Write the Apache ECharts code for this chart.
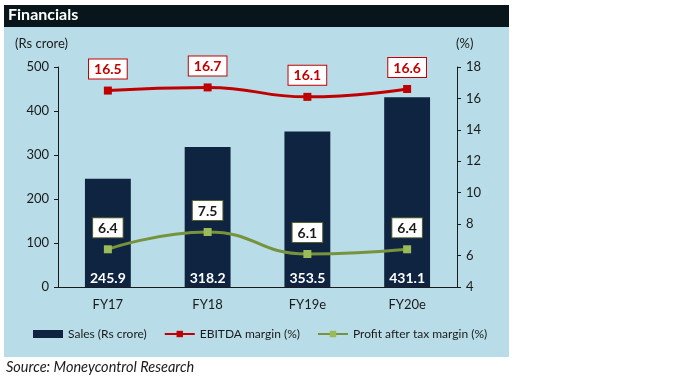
<!DOCTYPE html>
<html><head><meta charset="utf-8">
<script src="https://cdn.jsdelivr.net/npm/echarts@6/dist/echarts.min.js"></script>
<style>html,body{margin:0;padding:0;background:#fff}#c{width:691px;height:381px}</style>
</head><body><div id="c"></div>
<script>
const categories = ['FY17','FY18','FY19e','FY20e'];
const sales = [245.9, 318.2, 353.5, 431.1];
const ebitda = [16.5, 16.7, 16.1, 16.6];
const pat = [6.4, 7.5, 6.1, 6.4];
const leftTicks = [0, 500, 100];
const rightTicks = [4, 18, 2];

const FONT = 'Lato';
const chart = echarts.init(document.getElementById('c'));
chart.setOption({
  backgroundColor: '#ffffff',
  animation: false,
  textStyle: { fontFamily: FONT },
  graphic: [
    { type: 'rect', shape: { x: 4, y: 5, width: 505, height: 22 }, style: { fill: '#08161b' }, z: -10 },
    { type: 'rect', shape: { x: 4, y: 27, width: 505, height: 330 }, style: { fill: '#b8dde8' }, z: -10 },
    { type: 'text', left: 8, top: 7, style: { text: 'Financials', fill: '#ffffff', font: 'bold 16px ' + FONT } },
    { type: 'text', left: 15, top: 37, style: { text: '(Rs crore)', fill: '#1a1a1a', font: '13px ' + FONT } },
    { type: 'text', left: 456, top: 37, style: { text: '(%)', fill: '#1a1a1a', font: '13px ' + FONT } },
    { type: 'text', left: 6, top: 360, style: { text: 'Source: Moneycontrol Research', fill: '#1a1a1a', font: 'italic 14.5px ' + FONT } }
  ],
  grid: { left: 58, right: 234, top: 67, bottom: 94 },
  legend: {
    bottom: 36, left: 28, itemWidth: 30, itemHeight: 8, itemGap: 17,
    textStyle: { fontSize: 12, color: '#1a1a1a', fontFamily: FONT },
    data: [
      { name: 'Sales (Rs crore)', icon: 'rect' },
      { name: 'EBITDA margin (%)' },
      { name: 'Profit after tax margin (%)' }
    ]
  },
  xAxis: {
    type: 'category', data: categories,
    axisLine: { lineStyle: { color: '#1a1a1a' } },
    axisTick: { show: false },
    axisLabel: { color: '#1a1a1a', fontSize: 13, margin: 11 }
  },
  yAxis: [
    { type: 'value', min: leftTicks[0], max: leftTicks[1], interval: leftTicks[2],
      axisLine: { show: true, lineStyle: { color: '#1a1a1a' } },
      axisTick: { show: true, length: 4, lineStyle: { color: '#1a1a1a' } },
      axisLabel: { color: '#1a1a1a', fontSize: 13, margin: 9 },
      splitLine: { show: false } },
    { type: 'value', min: rightTicks[0], max: rightTicks[1], interval: rightTicks[2], position: 'right',
      axisLine: { show: true, lineStyle: { color: '#1a1a1a' } },
      axisTick: { show: true, length: 4, lineStyle: { color: '#1a1a1a' } },
      axisLabel: { color: '#1a1a1a', fontSize: 13, margin: 9 },
      splitLine: { show: false } }
  ],
  series: [
    { name: 'Sales (Rs crore)', type: 'bar', data: sales, barWidth: '46%',
      itemStyle: { color: '#0f2440' },
      label: { show: true, position: 'insideBottom', distance: 2, color: '#ffffff', fontWeight: 'bold', fontSize: 14,
        formatter: p => p.value.toFixed(1) } },
    { name: 'EBITDA margin (%)', type: 'line', yAxisIndex: 1, data: ebitda, smooth: true,
      symbol: 'rect', symbolSize: 8,
      lineStyle: { color: '#c00000', width: 3 }, itemStyle: { color: '#c00000' },
      label: { show: true, position: 'top', distance: 8, color: '#c00000', fontWeight: 'bold', fontSize: 14,
        backgroundColor: '#ffffff', borderColor: '#c00000', borderWidth: 1, padding: [3, 5, 2, 5],
        formatter: p => p.value.toFixed(1) } },
    { name: 'Profit after tax margin (%)', type: 'line', yAxisIndex: 1, data: pat, smooth: true,
      symbol: 'rect', symbolSize: 8,
      lineStyle: { color: '#77933c', width: 3 }, itemStyle: { color: '#9bbb59' },
      label: { show: true, position: 'top', distance: 8, color: '#1a1a1a', fontWeight: 'bold', fontSize: 14,
        backgroundColor: '#ffffff', borderColor: '#55602f', borderWidth: 1, padding: [3, 5, 2, 5],
        formatter: p => p.value.toFixed(1) } }
  ]
});
</script></body></html>
